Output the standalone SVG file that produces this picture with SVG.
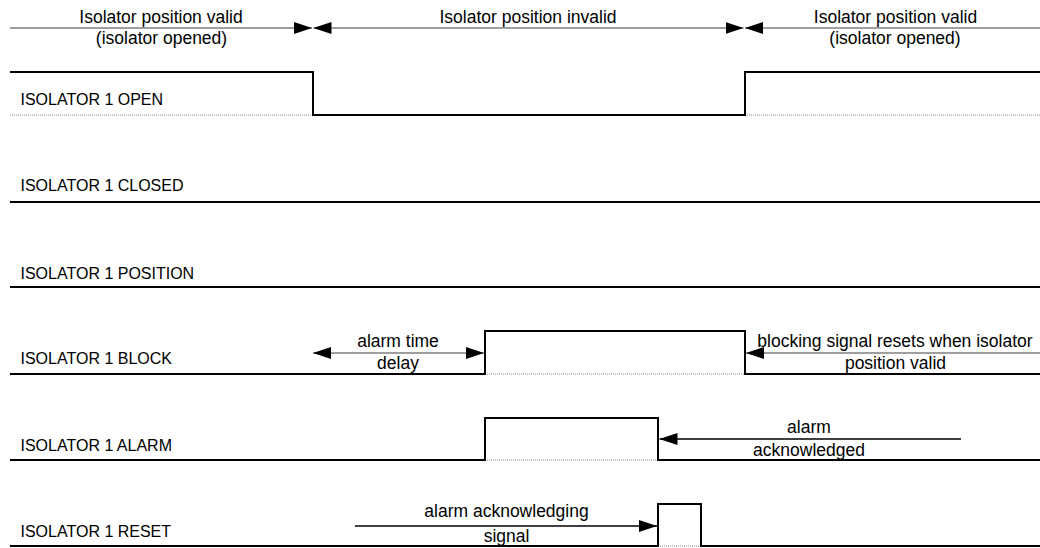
<svg xmlns="http://www.w3.org/2000/svg" width="1040" height="548" viewBox="0 0 1040 548">
<style>
  text { font-family: "Liberation Sans", Arial, sans-serif; fill: #000; }
  .lbl { font-size: 16px; }
  .ann { font-size: 17.5px; text-anchor: middle; }
  .sig { fill: none; stroke: #000; stroke-width: 2; }
  .base { fill: none; stroke: #8a8a8a; stroke-width: 1; stroke-dasharray: 1 1; }
  .gray { fill: none; stroke: #7f7f7f; stroke-width: 1.5; }
  .blk { fill: none; stroke: #000; stroke-width: 1.3; }
</style>
<defs>
  <marker id="ah" viewBox="0 0 18 12" refX="18" refY="6" markerWidth="18" markerHeight="12" markerUnits="userSpaceOnUse" orient="auto-start-reverse">
    <path d="M0,0 L18,6 L0,12 Z" fill="#000"/>
  </marker>
</defs>
<rect width="1040" height="548" fill="#fff"/>

<g id="phases">
  <text class="ann" x="161" y="22.5">Isolator position valid</text>
  <text class="ann" x="161.5" y="43.5">(isolator opened)</text>
  <text class="ann" x="528" y="22.5">Isolator position invalid</text>
  <text class="ann" x="895.5" y="22.5">Isolator position valid</text>
  <text class="ann" x="895" y="43.5">(isolator opened)</text>
</g>

<g id="isolator-open">
  <text class="lbl" x="20.5" y="104.5">ISOLATOR 1 OPEN</text>
  <path class="base" d="M10,115 H313 M745,115 H1040"/>
  <path class="sig" d="M10,72 H313 V115 H745 V72 H1040"/>
</g>

<g id="isolator-closed">
  <text class="lbl" x="20.5" y="191">ISOLATOR 1 CLOSED</text>
  <path class="sig" d="M10,202 H1040"/>
</g>

<g id="isolator-position">
  <text class="lbl" x="20.5" y="278.5">ISOLATOR 1 POSITION</text>
  <path class="sig" d="M10,287 H1040"/>
</g>

<g id="isolator-block">
  <text class="lbl" x="20.5" y="364">ISOLATOR 1 BLOCK</text>
  <path class="base" d="M485,374 H745"/>
  <path class="sig" d="M10,374 H485 V331 H745 V374 H1040"/>
  <text class="ann" x="398" y="346.5">alarm time</text>
  <text class="ann" x="398" y="369">delay</text>
  <text class="ann" x="895" y="346.5">blocking signal resets when isolator</text>
  <text class="ann" x="895.5" y="369">position valid</text>
</g>

<g id="isolator-alarm">
  <text class="lbl" x="20.5" y="450.5">ISOLATOR 1 ALARM</text>
  <path class="base" d="M485,460 H658"/>
  <path class="sig" d="M10,460 H485 V418 H658 V460 H1040"/>
  <text class="ann" x="809" y="433">alarm</text>
  <text class="ann" x="809" y="456">acknowledged</text>
</g>

<g id="isolator-reset">
  <text class="lbl" x="20.5" y="536.5">ISOLATOR 1 RESET</text>
  <path class="base" d="M658,546 H701"/>
  <path class="sig" d="M10,546 H658 V504 H701 V546 H1040"/>
  <text class="ann" x="506.5" y="516.5">alarm acknowledging</text>
  <text class="ann" x="506.5" y="541.5">signal</text>
</g>

<g id="connectors">
  <path class="gray" d="M10,28 H312" marker-end="url(#ah)"/>
  <path class="gray" d="M313.5,28 H743.5" marker-start="url(#ah)" marker-end="url(#ah)"/>
  <path class="gray" d="M745,28 H1040" marker-start="url(#ah)"/>
  <path class="gray" d="M313,353 H484" marker-start="url(#ah)" marker-end="url(#ah)"/>
  <path class="gray" d="M1040,353 H746" marker-end="url(#ah)"/>
  <path class="blk" d="M961,439 H659.5" marker-end="url(#ah)"/>
  <path class="blk" d="M355,526 H657" marker-end="url(#ah)"/>
</g>
</svg>
